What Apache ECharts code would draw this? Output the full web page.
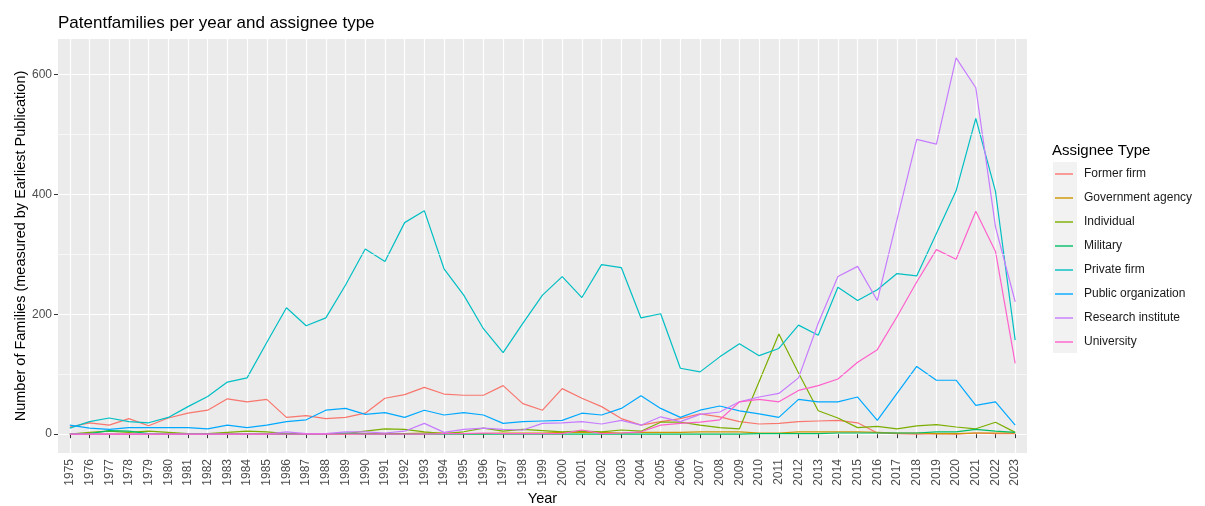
<!DOCTYPE html>
<html>
<head>
<meta charset="utf-8">
<script src="https://cdn.jsdelivr.net/npm/echarts@6/dist/echarts.min.js"></script>
<style>
    html, body { margin: 0; padding: 0; background: #fff; }
    #chart { width: 1205px; height: 506px; }
</style>
</head>
<body>
<div id="chart"></div>
<script>
    // years on the x axis
    const years = [1975, 1976, 1977, 1978, 1979, 1980, 1981, 1982, 1983, 1984,
        1985, 1986, 1987, 1988, 1989, 1990, 1991, 1992, 1993, 1994,
        1995, 1996, 1997, 1998, 1999, 2000, 2001, 2002, 2003, 2004,
        2005, 2006, 2007, 2008, 2009, 2010, 2011, 2012, 2013, 2014,
        2015, 2016, 2017, 2018, 2019, 2020, 2021, 2022, 2023];
    const yTicks = [0, 200, 400, 600];
    const yMinor = [100, 300, 500];

    const formerFirm = [12, 19, 15, 26, 14, 27, 35, 40, 59, 54,
        58, 28, 31, 26, 28, 35, 60, 66, 78, 67,
        65, 65, 81, 51, 40, 76, 60, 46, 26, 15,
        21, 26, 34, 29, 21, 17, 18, 21, 22, 23,
        19, 2, 1, 0, 1, 0, 2, 1, 1];
    const governmentAgency = [0, 0, 0, 0, 0, 0, 0, 0, 1, 1,
        1, 0, 0, 0, 0, 1, 1, 1, 2, 2,
        1, 1, 2, 2, 2, 3, 3, 3, 2, 3,
        3, 3, 4, 4, 4, 2, 2, 4, 4, 4,
        4, 3, 2, 2, 1, 1, 2, 2, 2];
    const individual = [0, 3, 5, 3, 5, 3, 1, 1, 3, 5,
        4, 1, 1, 1, 1, 5, 9, 8, 4, 1,
        4, 10, 5, 8, 6, 4, 5, 4, 7, 5,
        20, 20, 15, 11, 9, 88, 167, 102, 39, 27,
        11, 13, 9, 14, 16, 12, 9, 20, 3];
    const military = [0, 1, 6, 5, 1, 0, 0, 0, 0, 0,
        0, 0, 0, 0, 2, 0, 0, 0, 0, 0,
        0, 0, 0, 0, 0, 0, 0, 0, 0, 0,
        0, 0, 0, 0, 0, 1, 1, 1, 1, 2,
        2, 2, 2, 2, 4, 4, 8, 5, 3];
    const privateFirm = [10, 21, 27, 21, 19, 28, 46, 63, 87, 94,
        153, 211, 181, 194, 249, 309, 288, 353, 373, 276,
        232, 176, 136, 185, 232, 263, 228, 283, 278, 194,
        201, 110, 104, 129, 151, 131, 143, 182, 165, 245,
        223, 241, 268, 264, 335, 406, 527, 405, 157];
    const publicOrganization = [15, 10, 8, 11, 11, 11, 11, 9, 15, 11,
        15, 21, 24, 40, 43, 33, 36, 28, 40, 32,
        36, 32, 18, 21, 22, 23, 35, 32, 43, 64,
        43, 28, 40, 47, 39, 34, 28, 58, 54, 54,
        62, 23, 68, 113, 90, 90, 48, 54, 15];
    const researchInstitute = [0, 0, 0, 0, 0, 0, 0, 0, 0, 0,
        0, 4, 1, 1, 4, 4, 2, 5, 18, 3,
        8, 10, 8, 7, 18, 19, 21, 17, 23, 15,
        29, 21, 33, 37, 54, 62, 68, 94, 185, 263,
        280, 223, 358, 492, 484, 628, 578, 346, 221];
    const university = [0, 0, 0, 0, 0, 0, 0, 0, 0, 0,
        0, 0, 0, 0, 0, 0, 0, 0, 0, 1,
        1, 2, 1, 1, 1, 1, 7, 1, 2, 4,
        15, 18, 20, 24, 54, 58, 54, 73, 81, 92,
        120, 141, 196, 254, 308, 292, 372, 305, 118];

    const seriesList = [
        { name: 'Former firm', values: formerFirm, color: '#F8766D' },
        { name: 'Government agency', values: governmentAgency, color: '#CD9600' },
        { name: 'Individual', values: individual, color: '#7CAE00' },
        { name: 'Military', values: military, color: '#00BE67' },
        { name: 'Private firm', values: privateFirm, color: '#00BFC4' },
        { name: 'Public organization', values: publicOrganization, color: '#00A9FF' },
        { name: 'Research institute', values: researchInstitute, color: '#C77CFF' },
        { name: 'University', values: university, color: '#FF61CC' }
    ];

    const chart = echarts.init(document.getElementById('chart'));
    const fontFamily = '"Liberation Sans", Arial, sans-serif';

    const series = [{
        // minor grid lines only
        type: 'line',
        data: [],
        z: 1,
        silent: true,
        markLine: {
            silent: true,
            symbol: 'none',
            label: { show: false },
            lineStyle: { color: '#FFFFFF', width: 0.6, type: 'solid' },
            data: yMinor.map(v => ({ yAxis: v }))
        }
    }];
    seriesList.forEach(s => {
        series.push({
            name: s.name,
            type: 'line',
            showSymbol: false,
            symbol: 'none',
            z: 3,
            lineStyle: { width: 1.2, color: s.color },
            itemStyle: { color: s.color },
            data: years.map((y, i) => [y, s.values[i]])
        });
    });

    chart.setOption({
        backgroundColor: '#FFFFFF',
        animation: false,
        title: [{
            text: 'Patentfamilies per year and assignee type',
            left: 53,
            top: 10,
            textStyle: { fontFamily: fontFamily, fontSize: 17, fontWeight: 'normal', color: '#000000' }
        }, {
            text: 'Assignee Type',
            left: 1047,
            top: 138,
            textStyle: { fontFamily: fontFamily, fontSize: 15, fontWeight: 'normal', color: '#000000' }
        }],
        graphic: [{
            type: 'rect',
            left: 1053,
            top: 162,
            shape: { width: 24, height: 191 },
            style: { fill: '#F2F2F2' },
            z: -1
        }],
        legend: {
            orient: 'vertical',
            left: 1050,
            top: 162,
            icon: 'rect',
            itemWidth: 18,
            itemHeight: 1.4,
            itemGap: 10,
            data: seriesList.map(s => s.name),
            textStyle: { fontFamily: fontFamily, fontSize: 12, lineHeight: 14, color: '#1A1A1A', padding: [0, 0, 0, 6] }
        },
        grid: {
            left: 58,
            right: 178,
            top: 39,
            bottom: 53,
            outerBoundsMode: 'none',
            show: true,
            backgroundColor: '#EBEBEB',
            borderWidth: 0
        },
        xAxis: {
            type: 'value',
            min: 1974.4,
            max: 2023.6,
            name: 'Year',
            nameLocation: 'middle',
            nameGap: 38,
            nameMoveOverlap: false,
            nameTextStyle: { fontFamily: fontFamily, fontSize: 14.5, color: '#000000' },
            axisLine: { show: false },
            axisTick: { show: true, length: 4, customValues: years, lineStyle: { color: '#333333' } },
            axisLabel: {
                customValues: years,
                rotate: 90,
                margin: 6,
                fontFamily: fontFamily,
                fontSize: 12,
                color: '#4D4D4D',
                formatter: v => String(v)
            },
            splitLine: { show: true, lineStyle: { color: '#FFFFFF', width: 1.2 } }
        },
        yAxis: {
            type: 'value',
            min: -31.4,
            max: 659.4,
            name: 'Number of Families (measured by Earliest Publication)',
            nameLocation: 'middle',
            nameGap: 30,
            nameMoveOverlap: false,
            nameTextStyle: { fontFamily: fontFamily, fontSize: 14.5, color: '#000000' },
            axisLine: { show: false },
            axisTick: { show: true, length: 4, customValues: yTicks, lineStyle: { color: '#333333' } },
            axisLabel: {
                customValues: yTicks,
                margin: 6,
                fontFamily: fontFamily,
                fontSize: 12,
                color: '#4D4D4D'
            },
            splitLine: { show: true, lineStyle: { color: '#FFFFFF', width: 1.2 } }
        },
        series: series
    });
</script>
</body>
</html>
